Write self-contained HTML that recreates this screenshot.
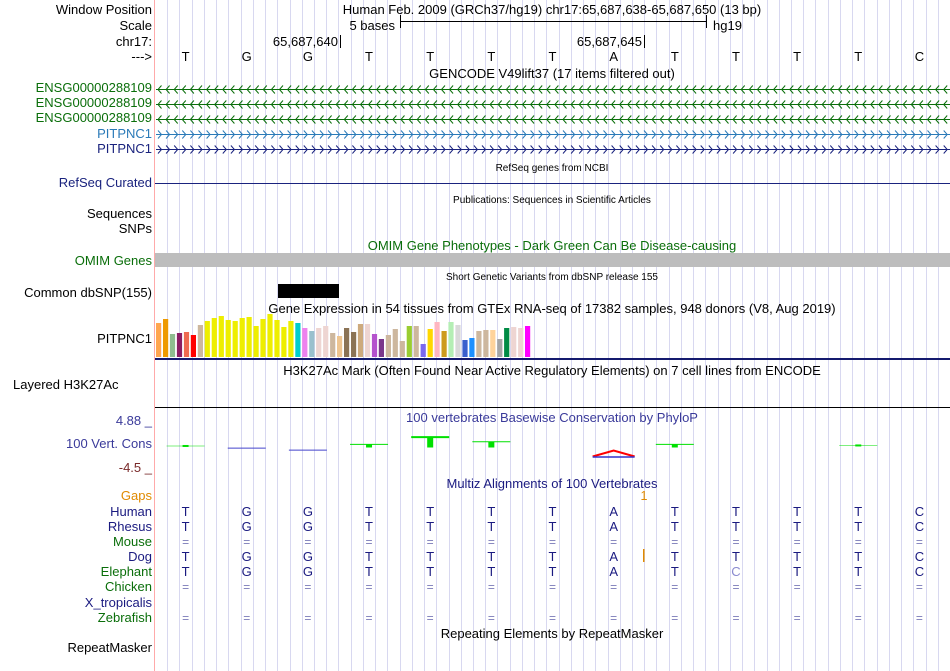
<!DOCTYPE html>
<html><head><meta charset="utf-8"><style>
html,body{margin:0;padding:0;background:#fff;}
svg{display:block;font-family:"Liberation Sans",sans-serif;}
</style></head><body>
<svg id="c" width="950" height="671" viewBox="0 0 950 671">
<g id="grid"></g>
<line x1="154.5" y1="0" x2="154.5" y2="671" stroke="#ffaaaa"/>
<g font-size="13" text-anchor="end">
<text x="152" y="14" fill="#000">Window Position</text>
<text x="152" y="30" fill="#000">Scale</text>
<text x="152" y="46" fill="#000">chr17:</text>
<text x="152" y="61" fill="#000">---&gt;</text>
<text x="152" y="92" fill="#0a6e0a">ENSG00000288109</text>
<text x="152" y="107" fill="#0a6e0a">ENSG00000288109</text>
<text x="152" y="122" fill="#0a6e0a">ENSG00000288109</text>
<text x="152" y="138" fill="#2a7ab8">PITPNC1</text>
<text x="152" y="153" fill="#1a237e">PITPNC1</text>
<text x="152" y="187" fill="#1a237e">RefSeq Curated</text>
<text x="152" y="218" fill="#000">Sequences</text>
<text x="152" y="233" fill="#000">SNPs</text>
<text x="152" y="265" fill="#0a6e0a">OMIM Genes</text>
<text x="152" y="297" fill="#000">Common dbSNP(155)</text>
<text x="152" y="343" fill="#000">PITPNC1</text>
<text x="152" y="448" fill="#3a3a9a">100 Vert. Cons</text>
<text x="152" y="425" fill="#3a3a9a">4.88 _</text>
<text x="152" y="472" fill="#7a2a2a">-4.5 _</text>
<text x="152" y="500" fill="#e08a00">Gaps</text>
<text x="152" y="516" fill="#1a1a80">Human</text>
<text x="152" y="531" fill="#1a1a80">Rhesus</text>
<text x="152" y="546" fill="#0a6e0a">Mouse</text>
<text x="152" y="561" fill="#1a1a80">Dog</text>
<text x="152" y="576" fill="#0a6e0a">Elephant</text>
<text x="152" y="591" fill="#0a6e0a">Chicken</text>
<text x="152" y="607" fill="#1a1a80">X_tropicalis</text>
<text x="152" y="622" fill="#0a6e0a">Zebrafish</text>
<text x="152" y="652" fill="#000">RepeatMasker</text>
</g>
<text x="13" y="389" font-size="13" fill="#000">Layered H3K27Ac</text>
<g font-size="13" text-anchor="middle">
<text x="552" y="14">Human Feb. 2009 (GRCh37/hg19)   chr17:65,687,638-65,687,650 (13 bp)</text>
<text x="552" y="78">GENCODE V49lift37 (17 items filtered out)</text>
<text x="552" y="171" font-size="10">RefSeq genes from NCBI</text>
<text x="552" y="203" font-size="10">Publications: Sequences in Scientific Articles</text>
<text x="552" y="250" fill="#0a6e0a">OMIM Gene Phenotypes - Dark Green Can Be Disease-causing</text>
<text x="552" y="280" font-size="10">Short Genetic Variants from dbSNP release 155</text>
<text x="552" y="313">Gene Expression in 54 tissues from GTEx RNA-seq of 17382 samples, 948 donors (V8, Aug 2019)</text>
<text x="552" y="375">H3K27Ac Mark (Often Found Near Active Regulatory Elements) on 7 cell lines from ENCODE</text>
<text x="552" y="422" fill="#3a3a9a">100 vertebrates Basewise Conservation by PhyloP</text>
<text x="552" y="488" fill="#1a1a80">Multiz Alignments of 100 Vertebrates</text>
<text x="552" y="638">Repeating Elements by RepeatMasker</text>
</g>
<g>
<text x="395" y="30" font-size="13" text-anchor="end">5 bases</text>
<line x1="400.5" y1="15" x2="400.5" y2="28" stroke="#000"/>
<line x1="400" y1="21.5" x2="707" y2="21.5" stroke="#000"/>
<line x1="706.5" y1="15" x2="706.5" y2="28" stroke="#000"/>
<text x="713" y="30" font-size="13">hg19</text>
<text x="338" y="46" font-size="13" text-anchor="end">65,687,640</text>
<line x1="340.5" y1="35" x2="340.5" y2="48" stroke="#000"/>
<text x="642" y="46" font-size="13" text-anchor="end">65,687,645</text>
<line x1="644.5" y1="35" x2="644.5" y2="48" stroke="#000"/>
</g>
<line x1="155" y1="183.5" x2="950" y2="183.5" stroke="#1a237e"/>
<rect x="155" y="253" width="795" height="14" fill="#bdbdbd"/>
<rect x="278" y="284" width="61" height="14" fill="#000"/>
<rect x="155" y="358" width="795" height="2" fill="#141a6e"/>
<line x1="155" y1="407.5" x2="950" y2="407.5" stroke="#000"/>
<g id="genes"></g><g id="bars"></g>
<g id="cons"></g>
<g id="bases" font-size="13" text-anchor="middle"></g>
<text x="644" y="500" font-size="12.5" fill="#e08a00" text-anchor="middle">1</text>
<rect x="643" y="549" width="1.5" height="13" fill="#e08a00"/>
</svg>
<script>
const refBases = ["T","G","G","T","T","T","T","A","T","T","T","T","C"];
const gtexValues = [34,38,23,24,25,22,32,36,39,41,37,36,39,40,31,38,43,37,30,36,34,29,26,29,31,24,21,29,25,33,33,23,18,22,28,16,31,31,13,28,35,26,35,32,17,19,26,27,27,18,29,30,29,31];
const gtexColors = ["#FFA54F","#EE9A00","#8FBC8F","#8B1C62","#EE6A50","#FF0000","#CDB79E","#EEEE00","#EEEE00","#EEEE00","#EEEE00","#EEEE00","#EEEE00","#EEEE00","#EEEE00","#EEEE00","#EEEE00","#EEEE00","#EEEE00","#EEEE00","#00CDCD","#EE82EE","#9AC0CD","#EED5D2","#EED5D2","#CDB79E","#EEC591","#8B7355","#8B7355","#CDAA7D","#EED5D2","#B452CD","#7A378B","#CDB79E","#CDB79E","#CDB79E","#9ACD32","#CDB79E","#7B68EE","#FFD700","#FFB6C1","#CD9B1D","#B4EEB4","#D9D9D9","#3A5FCD","#1E90FF","#CDB79E","#CDB79E","#FFD39B","#A6A6A6","#008B45","#EED5D2","#EED5D2","#FF00FF"];
const phyloP = [0.1,-0.3,-0.7,0.4,1.8,0.9,0,-1.8,0.4,0,0,0.2,0];
const species = ["Human","Rhesus","Mouse","Dog","Elephant","Chicken","X_tropicalis","Zebrafish"];
const alignRows = [
 "TGGTTTTATTTTC","TGGTTTTATTTTC","=============","TGGTTTTATTTTC","TGGTTTTATCTTC","=============","             ","============="];
const NS="http://www.w3.org/2000/svg";
const X0=155, BW=795/13;
const bx=i=>X0+BW*(i+0.5);
function mk(tag,attrs,parent){const e=document.createElementNS(NS,tag);for(const k in attrs)e.setAttribute(k,attrs[k]);parent.appendChild(e);return e;}
const grid=document.getElementById('grid');
for(let k=1;k<65;k++){const x=Math.round(X0+k*BW/5)+0.5;if(x>950)break;
 const l=mk('line',{x1:x,y1:0,x2:x,y2:671,stroke:'#d8d8f0'},grid);
 
 }
const genes=document.getElementById('genes');
const geneRows=[[89,'#0a6e0a',-1],[104,'#0a6e0a',-1],[119,'#0a6e0a',-1],[134,'#2a7ab8',1],[149,'#1a237e',1]];
geneRows.forEach((g,gi)=>{const grp=mk('g',{stroke:g[1],fill:'none'},genes);
 
 
 mk('line',{x1:156,y1:g[0]+.5,x2:950,y2:g[0]+.5},grp);
 let d='';for(let x=158;x<950;x+=8.1){ if(g[2]<0)d+=`M${x+3.5},${g[0]-3.5} L${x},${g[0]+.5} L${x+3.5},${g[0]+4.5} `; else d+=`M${x},${g[0]-3.5} L${x+3.5},${g[0]+.5} L${x},${g[0]+4.5} `;}
 mk('path',{d:d,'stroke-width':1},grp);});
const bases=document.getElementById('bases');
refBases.forEach((b,i)=>{const t=mk('text',{x:bx(i),y:61},bases);t.textContent=b;
 
 });
const bars=document.getElementById('bars');
const gBase=357, gPitch=376/54;
gtexValues.forEach((v,i)=>{const r=mk('rect',{x:(156+i*gPitch).toFixed(1),y:gBase-v,width:5.2,height:v,fill:gtexColors[i]},bars);
 
 });
const cons=document.getElementById('cons');
const zeroY=446.5, sc=5.22;
phyloP.forEach((v,i)=>{if(v===0)return;const c=bx(i);const y=zeroY-v*sc;
 if(i===7){const p=mk('path',{d:`M${c-21},${zeroY+10} L${c},${zeroY+4} L${c+21},${zeroY+10}`,stroke:'#f00','stroke-width':2,fill:'none'},cons);
  
  mk('line',{x1:c-21,y1:zeroY+10.5,x2:c+21,y2:zeroY+10.5,stroke:'#33c','stroke-width':1.5},cons);return;}
 const col=v>0?'#00e000':'#4444cc';
 const l=mk('line',{x1:c-19,y1:y,x2:c+19,y2:y,stroke:col,'stroke-width':v>1?2:1,opacity:v>0.3||v<0?1:0.5},cons);
 
 
 if(v>0.3){const top=Math.min(y,zeroY), h=Math.max(2,Math.abs(zeroY+1-y));
  mk('rect',{x:c-3,y:top,width:6,height:h,fill:'#00e000'},cons);}
 else if(v>0) mk('rect',{x:c-3,y:y-1,width:6,height:2,fill:'#00e000'},cons);});
alignRows.forEach((row,r)=>{const y=516+r*15+(r>=6?1:0);
 [...row].forEach((ch,i)=>{if(ch===' ')return;
  const isGap=ch==='=';
  const diff=!isGap && ch!==refBases[i];
  const t=mk('text',{x:bx(i),y:y,fill:isGap?'#7a7ab8':(diff?'#8a8ad0':'#1a1a80'),'font-size':isGap?12:13},bases);
  t.textContent=ch;
  
  });});
</script>
</body></html>
